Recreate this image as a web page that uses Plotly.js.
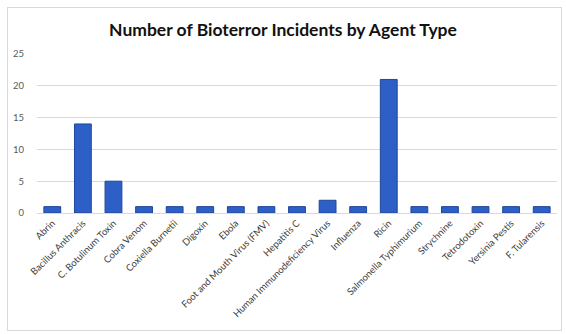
<!DOCTYPE html>
<html>
<head>
<meta charset="utf-8">
<script src="https://cdn.plot.ly/plotly-3.0.1.min.js"></script>
<style>
html,body{margin:0;padding:0;background:#fff;}
#wrap{position:relative;width:566px;height:334px;}
#chart{width:566px;height:334px;}
#frame{position:absolute;left:7px;top:7px;width:553px;height:322px;border:1px solid #d9d9d9;pointer-events:none;}
</style>
</head>
<body>
<div id="wrap"><div id="chart"></div><div id="frame"></div></div>
<script>
const agents = ["Abrin","Bacillus Anthracis","C. Botulinum Toxin","Cobra Venom","Coxiella Burnetii","Digoxin","Ebola","Foot and Mouth Virus (FMV)","Hepatitis C","Human Immunodeficiency Virus","Influenza","Ricin","Salmonella Typhimurium","Strychnine","Tetrodotoxin","Yersinia Pestis","F. Tularensis"];
const incidents = [1,14,5,1,1,1,1,1,1,2,1,21,1,1,1,1,1];
const yTicks = [0,5,10,15,20,25];

const trace = {
  type: "bar",
  x: agents,
  y: incidents,
  marker: {color: "#2D5FC6", line: {color: "#1E4798", width: 1}},
  hoverinfo: "x+y"
};
const layout = {
  width: 566, height: 334,
  margin: {l: 37, r: 9, t: 54, b: 121, pad: 0},
  paper_bgcolor: "rgba(0,0,0,0)",
  plot_bgcolor: "#fff",
  title: {text: "<b>Number of Bioterror Incidents by Agent Type</b>", x: 0.5, xanchor: "center", y: 0.91, yanchor: "middle",
          font: {family: "Lato, 'Open Sans', sans-serif", size: 17.5, color: "#111"}},
  bargap: 0.45,
  showlegend: false,
  xaxis: {
    type: "category", tickangle: -45, showgrid: false, ticks: "",
    showline: true, linecolor: "#d9d9d9", linewidth: 1,
    tickfont: {family: "Lato, 'Open Sans', sans-serif", size: 9.5, color: "#404040"},
    automargin: false
  },
  yaxis: {
    range: [0, 25], tickvals: yTicks, ticktext: yTicks.map(String),
    showgrid: true, gridcolor: "#d9d9d9", gridwidth: 1, zeroline: false, showline: false,
    ticks: "", ticklabelstandoff: 12,
    tickfont: {family: "Lato, 'Open Sans', sans-serif", size: 9.5, color: "#595959"},
    automargin: false
  }
};
Plotly.newPlot("chart", [trace], layout, {displayModeBar: false, staticPlot: true});
</script>
</body>
</html>
